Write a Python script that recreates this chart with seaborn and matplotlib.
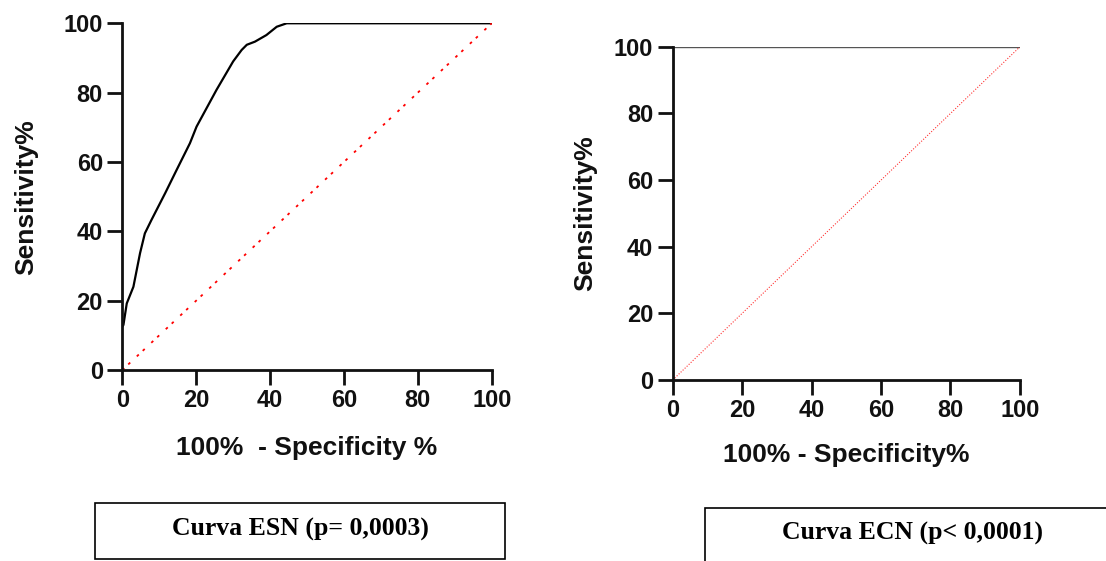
import numpy as np
import pandas as pd
import matplotlib.pyplot as plt
import seaborn as sns
from matplotlib.patches import Rectangle

# curva ESN
esn_fpr = [0, 0.3, 1.2, 3.0, 4.8, 6.1, 7.9, 11.6, 14.7, 18.3, 20.1, 25.5, 30.0, 32.3, 33.7, 35.9, 39.0, 41.8, 44.5, 100]
esn_sens = [12.5, 13.0, 19.2, 24.0, 33.7, 39.4, 43.3, 51.0, 57.7, 65.4, 70.2, 80.8, 89.0, 92.3, 93.8, 94.7, 96.6, 99.0, 100, 100]

# curva ECN
ecn_fpr = [0, 0, 100]
ecn_sens = [0, 100, 100]

ref = [0, 100]
ticks = [0, 20, 40, 60, 80, 100]
titulos = ['Curva ESN (p= 0,0003)', 'Curva ECN (p< 0,0001)']

sns.set_style("ticks")
plt.rcParams['font.family'] = ['Liberation Sans', 'DejaVu Sans']

fig = plt.figure(figsize=(11.06, 5.61), dpi=100)
ax1 = fig.add_axes([0.1106, 0.3405, 0.334, 0.618])
ax2 = fig.add_axes([0.6082, 0.3226, 0.314, 0.594])

df1 = pd.DataFrame({'x': esn_fpr, 'y': esn_sens})
df2 = pd.DataFrame({'x': ecn_fpr, 'y': ecn_sens})
dref = pd.DataFrame({'x': ref, 'y': ref})

sns.lineplot(data=df1, x='x', y='y', ax=ax1, color='black', lw=1.6,
             sort=False, estimator=None)
sns.lineplot(data=dref, x='x', y='y', ax=ax1, color='red', lw=1.3,
             linestyle=(0, (1.5, 3, 1.5, 5)))

sns.lineplot(data=df2, x='x', y='y', ax=ax2, color='#555555', lw=1.0,
             sort=False, estimator=None)
sns.lineplot(data=dref, x='x', y='y', ax=ax2, color='red', lw=0.8,
             linestyle=(0, (1, 1.5)), alpha=0.8)

for ax in [ax1, ax2]:
    ax.set_xlim(0, 100)
    ax.set_ylim(0, 100)
    ax.set_xticks(ticks)
    ax.set_yticks(ticks)
    sns.despine(ax=ax)
    for s in ['left', 'bottom']:
        ax.spines[s].set_linewidth(2)
        ax.spines[s].set_color('#111111')
    ax.tick_params(width=2, length=11, pad=3, labelsize=17, color='#111111')
    for lab in ax.get_xticklabels() + ax.get_yticklabels():
        lab.set_fontweight('bold')
        lab.set_color('#111111')
    ax.set_clip_on(False)

ax1.set_xlabel('100%  - Specificity %', fontsize=19, fontweight='bold', labelpad=17, color='#111111')
ax1.set_ylabel('Sensitivity%', fontsize=19, fontweight='bold', labelpad=18, color='#111111')
ax2.set_xlabel('100% - Specificity%', fontsize=19, fontweight='bold', labelpad=15, color='#111111')
ax2.set_ylabel('Sensitivity%', fontsize=19, fontweight='bold', labelpad=12, color='#111111')

# caixas com o nome da curva
fig.patches.append(Rectangle((95 / 1106, 1 - 559 / 561), 410 / 1106, 56 / 561,
                             transform=fig.transFigure, fill=False, lw=1.2, ec='black'))
fig.patches.append(Rectangle((705 / 1106, 1 - 563 / 561), 420 / 1106, 55 / 561,
                             transform=fig.transFigure, fill=False, lw=1.2, ec='black'))
fig.text(300 / 1106, 1 - 529 / 561, titulos[0], ha='center', va='center',
         fontsize=18.5, fontweight='bold', family='Liberation Serif', color='black')
fig.text(912 / 1106, 1 - 533 / 561, titulos[1], ha='center', va='center',
         fontsize=18.5, fontweight='bold', family='Liberation Serif', color='black')

fig.savefig('out.png', dpi=100)
